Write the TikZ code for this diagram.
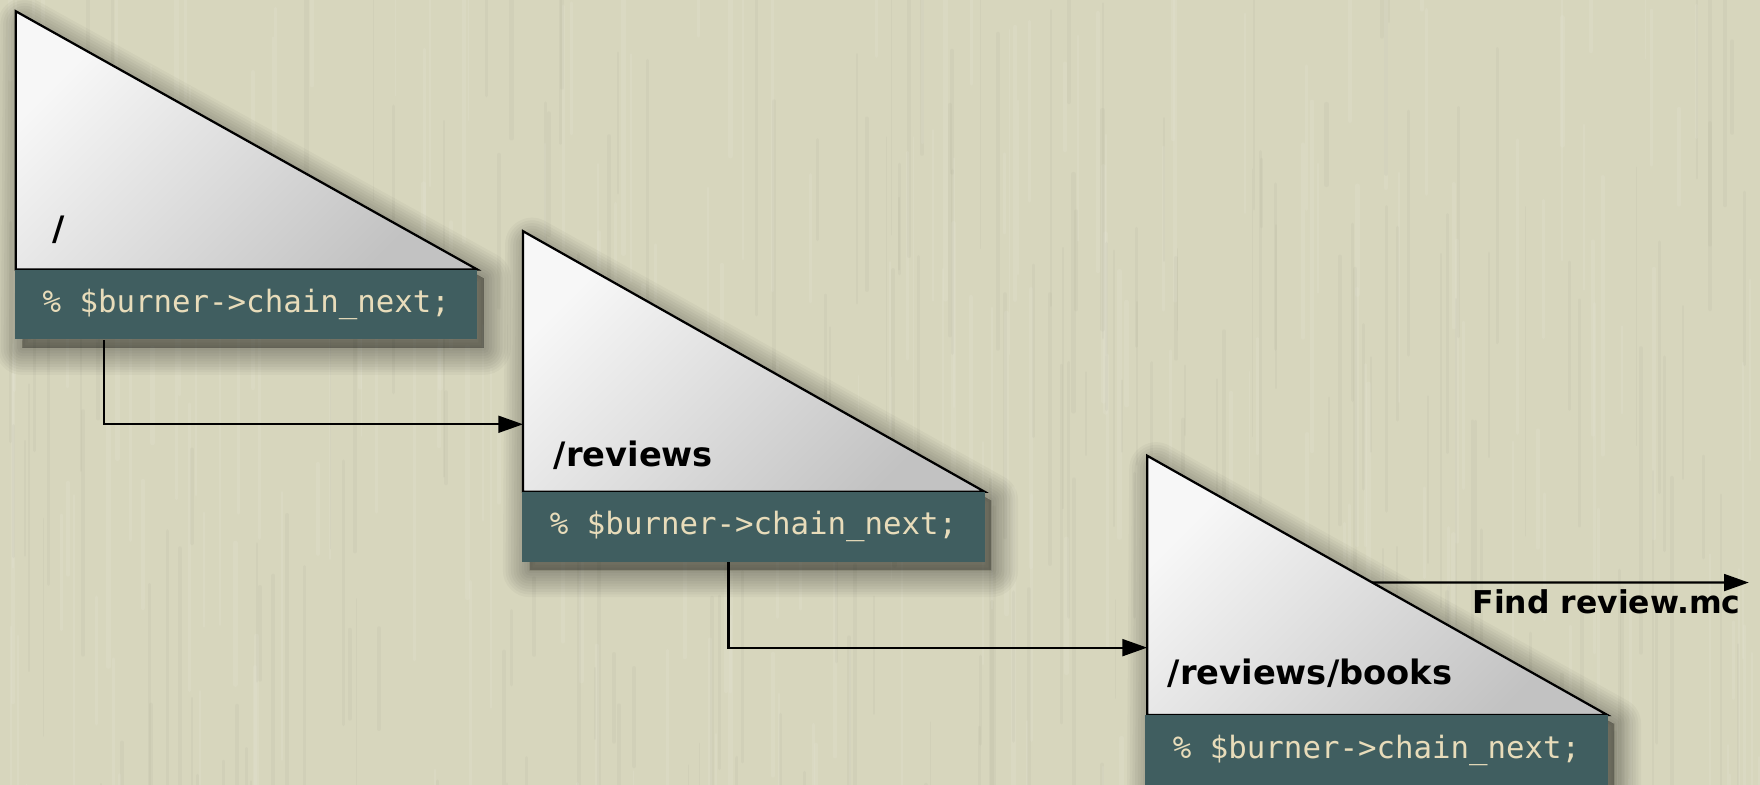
\documentclass[tikz,border=0pt]{standalone}
\usepackage{fontspec}
\setmainfont{DejaVu Sans}
\newfontfamily\codefont{DejaVu Sans Mono}
\usetikzlibrary{arrows.meta,calc}
\definecolor{bg}{RGB}{215,214,189}
\definecolor{barcol}{RGB}{64,94,96}
\definecolor{codetext}{RGB}{232,220,186}
\newcommand\mkshadow[4]{%
  \foreach \k in {0,...,10}{%
    \path[fill=black, draw=black, fill opacity=0.03, draw opacity=0.03,
          line width=\k*2.4pt, line join=round]
      (#1+8,#2+12) -- (#4+6,#3+8) -- (#4+6,#3+70) -- (#1+6,#3+70) -- cycle;
  }}
\begin{document}
\begin{tikzpicture}[x=0.5pt,y=-0.5pt,
  tri/.style={draw=black, line width=1pt, line join=miter,
    top color=white!97!black, bottom color=black!24, shading angle=45},
  codebar/.style={fill=barcol, text=codetext,
    font=\codefont\fontsize{13.7}{16}\selectfont,
    minimum width=206pt, minimum height=31pt, inner sep=0pt, anchor=north west},
  pathlabel/.style={font=\bfseries\fontsize{15}{18}\selectfont,
    inner sep=0pt, anchor=base west},
  conn/.style={line width=1pt, -{Triangle[length=11pt,width=7.5pt]}}]
\clip (0,0) rectangle (1568,699);
\fill[bg] (0,0) rectangle (1568,699);
% background texture
\pgfmathsetseed{42}
\foreach \i in {1,...,220}{%
  \pgfmathsetmacro\xx{rnd*1568}%
  \pgfmathsetmacro\yy{rnd*800-100}%
  \pgfmathsetmacro\ll{60+rnd*260}%
  \pgfmathsetmacro\ww{0.6+rnd*1.6}%
  \draw[line width=\ww pt, draw=white, opacity=0.08, line cap=round] (\xx,\yy) -- ++(0,\ll);
}
\foreach \i in {1,...,220}{%
  \pgfmathsetmacro\xx{rnd*1568}%
  \pgfmathsetmacro\yy{rnd*800-100}%
  \pgfmathsetmacro\ll{60+rnd*260}%
  \pgfmathsetmacro\ww{0.6+rnd*1.4}%
  \draw[line width=\ww pt, draw=bg!60!black, opacity=0.06, line cap=round] (\xx,\yy) -- ++(0,\ll);
}
% shadows
\mkshadow{14}{10}{240}{425}
\mkshadow{466}{206}{438}{877}
\mkshadow{1022}{406}{637}{1432}
% triangle 1
\coordinate (t1top) at (14,10);
\coordinate (t1bl) at (14,240);
\coordinate (t1br) at (425,240);
\path[tri] (t1top) -- (t1br) -- (t1bl) -- cycle;
\node[codebar] (bar1) at (13,240) {\% \$burner->chain\_next;};
\node[pathlabel] (l1) at (46,214) {/};
% triangle 2
\coordinate (t2top) at (466,206);
\coordinate (t2bl) at (466,438);
\coordinate (t2br) at (877,438);
\path[tri] (t2top) -- (t2br) -- (t2bl) -- cycle;
\node[codebar] (bar2) at (465,438) {\% \$burner->chain\_next;};
\node[pathlabel] (l2) at (493,416) {/reviews};
% triangle 3
\coordinate (t3top) at (1022,406);
\coordinate (t3bl) at (1022,637);
\coordinate (t3br) at (1432,637);
\path[tri] (t3top) -- (t3br) -- (t3bl) -- cycle;
\node[codebar] (bar3) at (1020,637) {\% \$burner->chain\_next;};
\node[pathlabel] (l3) at (1040,610) {/reviews/books};
% connectors
\coordinate (in2) at (466,378);
\draw[conn] ([xshift=39.7pt]bar1.south west) |- (in2);
\coordinate (in3) at (1022,577);
\draw[conn] ([xshift=92pt]bar2.south west) |- (in3);
\coordinate (hyp) at ($(t3top)!0.489!(t3br)$);
\coordinate (out) at (1558,519);
\draw[conn] (hyp) -- (out);
\node[font=\bfseries\fontsize{14}{17}\selectfont, inner sep=0pt, anchor=base east] (find) at (1551,547) {Find review.mc};
\end{tikzpicture}
\end{document}
